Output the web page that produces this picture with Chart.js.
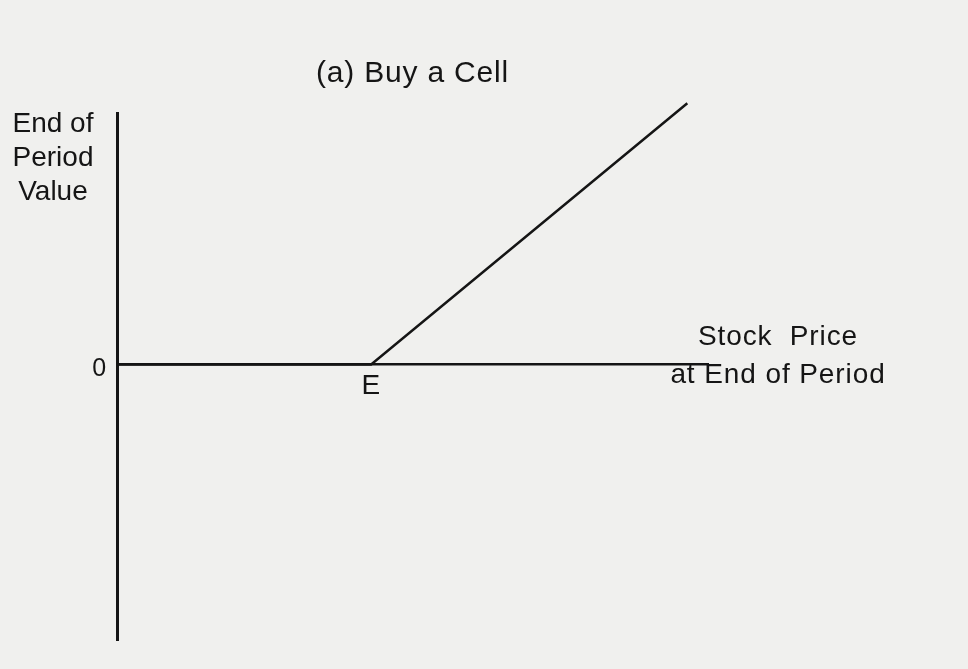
<!DOCTYPE html>
<html>
<head>
<meta charset="utf-8">
<script src="https://cdn.jsdelivr.net/npm/chart.js@4"></script>
<style>
  html, body { margin: 0; padding: 0; background: #f0f0ee; }
  canvas { display: block; }
</style>
</head>
<body>
<canvas id="payoff" width="968" height="669"></canvas>
<script>
// Buying a call: value at the end of the period against the stock price
const stockPrices = [0, 43, 96.5];
const callValues = [0, 0, 54];
const strikePrice = 43;

const xTickValues = [strikePrice];
const xTickLabels = ['E'];
const yTickValues = [0];
const yTickLabels = ['0'];

const priceRange = [0, 100];
const valueRange = [-57, 52];

const titleText = '(a) Buy a Cell';
const yCaptionLines = ['End of', 'Period', 'Value'];
const xCaptionLines = ['Stock  Price', 'at End of Period'];

const ink = '#151515';
const FONT = '"Liberation Sans", Arial, Helvetica, sans-serif';

const points = stockPrices.map((p, i) => ({ x: p, y: callValues[i] }));

// Slightly open letter spacing for the lettering, plus the two axis captions
const captionPlugin = {
  id: 'captions',
  beforeDraw(chart) {
    chart.ctx.letterSpacing = '0.8px';
  },
  afterDraw(chart) {
    const { ctx, chartArea, scales } = chart;
    const y0 = scales.y.getPixelForValue(0);
    ctx.save();
    ctx.fillStyle = ink;
    ctx.textAlign = 'center';
    ctx.textBaseline = 'alphabetic';

    ctx.font = `28px ${FONT}`;
    ctx.letterSpacing = '0px';
    const yx = chartArea.left - 64;
    yCaptionLines.forEach((t, i) => ctx.fillText(t, yx, chartArea.top + 19 + i * 34));

    ctx.font = `28px ${FONT}`;
    ctx.letterSpacing = '0.9px';
    const xx = chartArea.right + 70;
    ctx.fillText(xCaptionLines[0], xx, y0 - 19);
    ctx.fillText(xCaptionLines[1], xx, y0 + 19);
    ctx.restore();
    ctx.letterSpacing = '0px';
  }
};

new Chart(document.getElementById('payoff'), {
  type: 'line',
  data: {
    datasets: [{
      data: points,
      borderColor: ink,
      borderWidth: 2.5,
      pointRadius: 0,
      tension: 0,
      fill: false,
      clip: false
    }]
  },
  options: {
    responsive: false,
    animation: false,
    devicePixelRatio: 1,
    layout: { padding: { left: 77, right: 260, top: 50, bottom: 29 } },
    plugins: {
      legend: { display: false },
      tooltip: { enabled: false },
      title: {
        display: true,
        text: titleText,
        fullSize: false,
        color: ink,
        font: { family: FONT, size: 30, weight: 'normal' },
        padding: { top: 6, bottom: 21 }
      }
    },
    scales: {
      x: {
        type: 'linear',
        min: priceRange[0],
        max: priceRange[1],
        position: { y: 0 },
        grid: { display: false, drawTicks: false },
        border: { display: true, color: ink, width: 2.5 },
        afterBuildTicks: s => { s.ticks = xTickValues.map(v => ({ value: v })); },
        afterFit: s => { s.height = 0; },
        ticks: {
          color: ink,
          font: { family: FONT, size: 28 },
          padding: 5,
          maxRotation: 0,
          autoSkip: false,
          callback: v => xTickLabels[xTickValues.indexOf(v)] ?? ''
        }
      },
      y: {
        type: 'linear',
        min: valueRange[0],
        max: valueRange[1],
        position: 'left',
        grid: { display: false, drawTicks: false },
        border: { display: true, color: ink, width: 3 },
        afterBuildTicks: s => { s.ticks = yTickValues.map(v => ({ value: v })); },
        afterFit: s => { s.width = 40; },
        ticks: {
          color: ink,
          font: { family: FONT, size: 25 },
          padding: 10,
          labelOffset: 5,
          autoSkip: false,
          callback: v => yTickLabels[yTickValues.indexOf(v)] ?? ''
        }
      }
    }
  },
  plugins: [captionPlugin]
});
</script>
</body>
</html>
